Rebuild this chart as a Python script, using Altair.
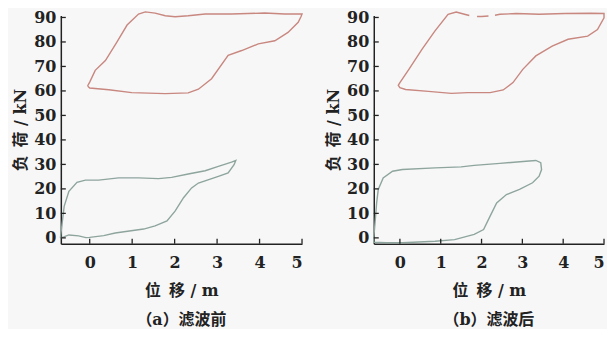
import altair as alt
import pandas as pd

# ---------------- data ----------------
x_ticks = [0, 1, 2, 3, 4, 5]
y_ticks = [0, 10, 20, 30, 40, 50, 60, 70, 80, 90]

# Panel (a) 滤波前 — upper (red) loop
a_red_x = [-0.05, 0.0, 0.13, 0.37, 0.64, 0.88, 1.15, 1.31, 1.54, 1.78, 2.01, 2.32, 2.72, 3.34, 4.12, 4.59, 5.0,
           4.98, 4.91, 4.67, 4.36, 3.97, 3.58, 3.26, 2.87, 2.56, 2.32, 1.78, 0.99, 0.45, 0.0, -0.05]
a_red_y = [62.0, 63.6, 68.4, 72.4, 79.9, 86.9, 91.4, 92.3, 91.8, 90.7, 90.3, 90.7, 91.4, 91.4, 91.8, 91.4, 91.4,
           90.5, 88.0, 83.9, 80.5, 79.2, 76.5, 74.5, 65.0, 60.7, 59.2, 58.9, 59.3, 60.5, 61.2, 62.0]
# Panel (a) — lower (green) loop
a_grn_x = [-0.69, -0.6, -0.49, -0.3, -0.1, 0.21, 0.68, 1.15, 1.62, 1.93, 2.32, 2.72, 3.03, 3.34, 3.44,
           3.40, 3.26, 3.03, 2.56, 2.40, 2.21, 2.01, 1.82, 1.54, 1.27, 0.6, 0.33, 0.0, -0.09, -0.26, -0.49, -0.61, -0.69]
a_grn_y = [0.0, 13.0, 19.0, 22.7, 23.6, 23.6, 24.5, 24.5, 24.2, 24.7, 26.1, 27.4, 29.2, 30.9, 31.6,
           29.9, 26.5, 25.1, 22.4, 20.4, 16.4, 10.9, 6.9, 4.9, 3.6, 2.0, 0.9, 0.2, 0.1, 0.8, 1.2, 0.4, 0.0]

# Panel (b) 滤波后 — upper (red) loop, drawn in pieces (the trace has small gaps)
b_red1_x = [2.33, 2.45, 2.85, 3.41, 4.04, 4.68, 5.0, 5.0, 4.84, 4.6, 4.12, 3.73, 3.33, 3.01, 2.77, 2.53, 2.21, 1.66,
            1.26, 0.70, 0.14, 0.0, -0.04, 0.0, 0.22, 0.54, 0.86, 1.18, 1.38, 1.58, 1.70]
b_red1_y = [90.9, 91.3, 91.6, 91.3, 91.6, 91.7, 91.6, 89.9, 85.1, 82.4, 81.1, 78.3, 74.3, 68.8, 63.4, 60.4, 59.3, 59.3,
            59.0, 59.8, 60.6, 61.3, 62.3, 63.4, 68.8, 77.0, 84.5, 91.3, 92.2, 91.3, 90.8]
b_red2_x = [1.89, 2.0, 2.17]
b_red2_y = [90.4, 90.4, 90.6]
# Panel (b) — lower (green) loop
b_grn_x = [-0.64, -0.6, -0.57, -0.53, -0.41, -0.18, 0.06, 0.86, 1.5, 1.82, 2.45, 3.09, 3.33, 3.45, 3.47, 3.41, 3.25,
           2.93, 2.61, 2.37, 2.21, 2.05, 1.82, 1.34, 0.86, 0.06, -0.33, -0.64, -0.64]
b_grn_y = [0.0, 8.0, 14.3, 19.8, 24.5, 27.2, 27.9, 28.6, 29.0, 29.6, 30.4, 31.3, 31.6, 30.7, 27.9, 25.2, 22.5,
           19.8, 17.7, 14.3, 8.9, 3.4, 1.4, -0.7, -1.4, -2.0, -2.0, -1.8, 0.0]

RED = "#c8877f"
GRN = "#8ea59e"
INK = "#222222"
SERIF = "DejaVu Serif, Noto Sans CJK SC"
Y_DOM = [-2.4, 90.8]
H = 229
SP = "\u2002"


def frame(pieces):
    rows = []
    for seg, (xs, ys, kind) in enumerate(pieces):
        for i, (xv, yv) in enumerate(zip(xs, ys)):
            rows.append({"x": xv, "y": yv, "kind": kind, "seg": seg, "i": i})
    return pd.DataFrame(rows)


def panel(df, xdom, w, caption):
    xscale = alt.Scale(domain=xdom, nice=False, zero=False)
    yscale = alt.Scale(domain=Y_DOM, nice=False, zero=False)
    xaxis = alt.Axis(values=x_ticks, title=f"位{SP}移 / m", labelPadding=11, titlePadding=12)
    yaxis = alt.Axis(values=y_ticks, title=f"负{SP}荷 / kN", labelPadding=5, titlePadding=5)
    lines = alt.Chart(df).mark_line(strokeWidth=1.4).encode(
        x=alt.X("x:Q", scale=xscale, axis=xaxis),
        y=alt.Y("y:Q", scale=yscale, axis=yaxis),
        color=alt.Color("kind:N", scale=alt.Scale(domain=["red", "green"], range=[RED, GRN]), legend=None),
        detail="seg:N",
        order="i:Q",
    )
    xt = alt.Chart(pd.DataFrame({"x": x_ticks})).mark_rule(color=INK, strokeWidth=1.3).encode(
        x=alt.X("x:Q", scale=xscale, axis=xaxis), y=alt.value(H), y2=alt.value(H - 5)
    )
    yt = alt.Chart(pd.DataFrame({"y": y_ticks})).mark_rule(color=INK, strokeWidth=1.3).encode(
        y=alt.Y("y:Q", scale=yscale, axis=yaxis), x=alt.value(0), x2=alt.value(5)
    )
    return alt.layer(lines, xt, yt).properties(
        width=w, height=H,
        title=alt.TitleParams(caption, orient="bottom", font=SERIF, fontSize=16, fontWeight="bold",
                              color=INK, offset=14, anchor="middle"),
    )


df_a = frame([(a_red_x, a_red_y, "red"), (a_grn_x, a_grn_y, "green")])
df_b = frame([(b_red1_x, b_red1_y, "red"), (b_red2_x, b_red2_y, "red"), (b_grn_x, b_grn_y, "green")])

chart = alt.hconcat(
    panel(df_a, [-0.68, 5.0], 242, "（a）滤波前"),
    panel(df_b, [-0.64, 5.0], 231, "（b）滤波后"),
    spacing=20,
).properties(
    background="#f7f7f8",
    padding={"left": 4, "top": 0, "right": 0, "bottom": 0},
).configure_view(stroke=None).configure_axis(
    grid=False, ticks=False, domainColor=INK, domainWidth=1.5,
    labelFont=SERIF, labelFontSize=16, labelFontWeight="bold", labelColor=INK,
    titleFont=SERIF, titleFontSize=16, titleFontWeight="bold", titleColor=INK,
)

chart.save("out.html", embed_options={"renderer": "svg", "actions": False})
